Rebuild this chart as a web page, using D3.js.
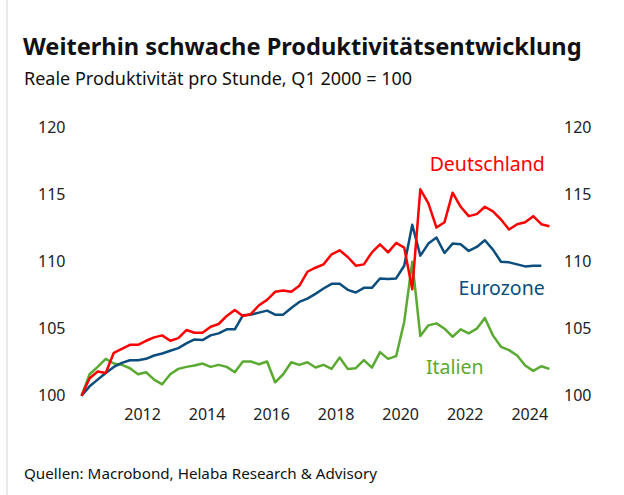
<!DOCTYPE html>
<html>
<head>
<meta charset="utf-8">
<script src="https://cdn.jsdelivr.net/npm/d3@7"></script>
<style>
  body { margin: 0; background: #fff; }
  text { font-family: "Noto Sans", sans-serif; }
</style>
</head>
<body>
<div id="chart"></div>
<script>
// quarterly data, Q1 2010 .. Q3 2024
var deutschland = [100.0, 101.3, 101.8, 101.7, 103.2, 103.5, 103.8, 103.8, 104.1, 104.35,
  104.5, 104.1, 104.3, 104.9, 104.7, 104.7, 105.15, 105.35, 105.95, 106.4,
  105.95, 106.1, 106.75, 107.15, 107.75, 107.85, 107.75, 108.2, 109.25, 109.55,
  109.8, 110.55, 110.85, 110.35, 109.7, 109.8, 110.7, 111.3, 110.7, 111.4,
  111.05, 107.95, 115.4, 114.35, 112.55, 112.95, 115.15, 114.1, 113.4, 113.55,
  114.1, 113.75, 113.15, 112.4, 112.8, 112.95, 113.4, 112.8, 112.65];

var eurozone = [100.0, 100.7, 101.2, 101.7, 102.15, 102.45, 102.65, 102.65, 102.75, 103.0,
  103.15, 103.35, 103.55, 103.9, 104.2, 104.15, 104.5, 104.65, 104.95, 104.95,
  106.0, 106.05, 106.2, 106.35, 106.05, 106.05, 106.55, 107.0, 107.25, 107.6,
  108.0, 108.35, 108.35, 107.9, 107.7, 108.05, 108.05, 108.75, 108.7, 108.75,
  109.7, 112.75, 110.45, 111.35, 111.8, 110.65, 111.35, 111.3, 110.8, 111.1,
  111.6, 110.9, 110.0, 109.95, 109.8, 109.65, 109.7, 109.7];

var italien = [100.0, 101.6, 102.15, 102.75, 102.4, 102.3, 102.05, 101.6, 101.75, 101.2,
  100.85, 101.6, 102.0, 102.15, 102.25, 102.4, 102.15, 102.3, 102.15, 101.75,
  102.55, 102.55, 102.35, 102.55, 101.0, 101.6, 102.5, 102.3, 102.5, 102.1,
  102.3, 102.0, 102.85, 102.0, 102.05, 102.65, 102.1, 103.25, 102.75, 102.95,
  105.5, 110.0, 104.45, 105.25, 105.4, 105.0, 104.4, 104.95, 104.65, 105.0,
  105.8, 104.5, 103.65, 103.4, 103.0, 102.25, 101.85, 102.2, 102.0];

var startYear = 2010;
var yTicks = [100, 105, 110, 115, 120];
var xTicks = [2012, 2014, 2016, 2018, 2020, 2022, 2024];

var width = 624, height = 495;

var svg = d3.select("#chart")
  .append("svg")
    .attr("width", width)
    .attr("height", height);

// thin frame line on the left
svg.append("rect")
  .attr("x", 6).attr("y", 0)
  .attr("width", 2).attr("height", height)
  .attr("fill", "#e9e9e9");

// title + subtitle
svg.append("text")
  .attr("x", 23).attr("y", 55)
  .attr("font-size", 23.6)
  .attr("font-weight", "bold")
  .attr("fill", "#111")
  .text("Weiterhin schwache Produktivitätsentwicklung");

svg.append("text")
  .attr("x", 24).attr("y", 85)
  .attr("font-size", 18)
  .attr("fill", "#111")
  .text("Reale Produktivität pro Stunde, Q1 2000 = 100");

// scales (x in decimal years, points in the middle of the quarter)
var x = d3.scaleLinear()
  .domain([2010, 2025])
  .range([77.5, 561.5]);

var y = d3.scaleLinear()
  .domain([100, 120])
  .range([395.7, 127.7]);

function t(i) { return startYear + i / 4 + 0.125; }

// y axis left and right, labels only
var yLeft = svg.append("g")
  .attr("transform", "translate(38,0)")
  .call(d3.axisLeft(y).tickValues(yTicks).tickSize(0).tickPadding(0));
yLeft.select(".domain").remove();
yLeft.selectAll("text").attr("text-anchor", "start");

var yRight = svg.append("g")
  .attr("transform", "translate(564,0)")
  .call(d3.axisRight(y).tickValues(yTicks).tickSize(0).tickPadding(0));
yRight.select(".domain").remove();

// x axis
var xAxis = svg.append("g")
  .attr("transform", "translate(0,409)")
  .call(d3.axisBottom(x).tickValues(xTicks).tickFormat(d3.format("d")).tickSize(0).tickPadding(0));
xAxis.select(".domain").remove();

svg.selectAll(".tick text")
  .attr("font-family", "Noto Sans, sans-serif")
  .attr("font-size", 16)
  .attr("fill", "#222");

var line = d3.line()
  .x(function(d, i) { return x(t(i)); })
  .y(function(d) { return y(d); });

var series = [
  {name: "Italien", values: italien, color: "#5aaa32"},
  {name: "Eurozone", values: eurozone, color: "#0b4d7c"},
  {name: "Deutschland", values: deutschland, color: "#ff0000"}
];

svg.selectAll("path.series")
  .data(series)
  .enter()
  .append("path")
    .attr("class", "series")
    .attr("d", function(d) { return line(d.values); })
    .attr("fill", "none")
    .attr("stroke", function(d) { return d.color; })
    .attr("stroke-width", 2.5)
    .attr("stroke-linejoin", "round");

// direct labels
var labels = [
  {text: "Deutschland", v: 116.8, color: "#ff0000", anchor: "end", xv: 2024.48},
  {text: "Eurozone", v: 107.55, color: "#0b4d7c", anchor: "end", xv: 2024.48},
  {text: "Italien", v: 101.6, color: "#5aaa32", anchor: "start", xv: 2020.8}
];

svg.selectAll("text.lab")
  .data(labels)
  .enter()
  .append("text")
    .attr("class", "lab")
    .attr("x", function(d) { return x(d.xv); })
    .attr("y", function(d) { return y(d.v); })
    .attr("text-anchor", function(d) { return d.anchor; })
    .attr("font-size", 19.5)
    .attr("fill", function(d) { return d.color; })
    .text(function(d) { return d.text; });

// source
svg.append("text")
  .attr("x", 24).attr("y", 479)
  .attr("font-size", 15.2)
  .attr("fill", "#111")
  .text("Quellen: Macrobond, Helaba Research & Advisory");
</script>
</body>
</html>
